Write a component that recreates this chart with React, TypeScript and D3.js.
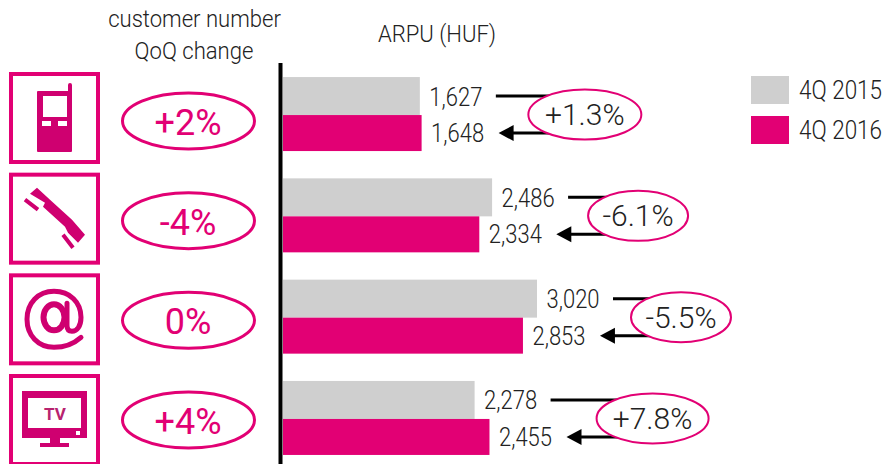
import { useEffect, useRef } from "react";
import * as d3 from "d3";

const categories = ["mobile", "voice", "internet", "tv"];
const customerChange = ["+2%", "-4%", "0%", "+4%"];
const arpu2015 = [1627, 2486, 3020, 2278];
const arpu2016 = [1648, 2334, 2853, 2455];
const arpuChange = ["+1.3%", "-6.1%", "-5.5%", "+7.8%"];
const seriesNames = ["4Q 2015", "4Q 2016"];

const MAGENTA = "#e20074";
const ICON = "#cf0070";
const GREY = "#cfcfcf";
const FONT = "Roboto, 'Liberation Sans', sans-serif";

export default function App() {
    const svgRef = useRef<SVGSVGElement>(null);

    useEffect(() => {
        const svg = d3.select(svgRef.current);
        svg.selectAll("*").remove();

        const x = d3.scaleLinear().domain([0, 3020]).range([283, 537]);
        const y = d3.scaleBand().domain(categories).range([64.1, 469.3]);
        const rowMid = (c: string) => y(c)! + y.bandwidth() / 2 + 0.3;
        // the left column is spaced a little tighter than the bars
        const yBadge = d3.scalePoint().domain(categories).range([121, 420]);
        const yFrame = d3.scalePoint().domain(categories).range([118, 420]);
        const fmt = d3.format(",");

        // ellipse distance from the end of the grey bar
        const badgeOffset = [165, 146, 144, 178];
        const badgeRx = [56.5, 50, 50, 56];

        const rows = svg.selectAll("g.row")
            .data(categories)
            .join("g")
            .attr("class", "row");

        // grey and magenta bars
        rows.append("rect")
            .attr("x", x(0))
            .attr("y", d => rowMid(d) - 38)
            .attr("width", (d, i) => x(arpu2015[i]) - x(0))
            .attr("height", 38)
            .attr("fill", GREY);
        rows.append("rect")
            .attr("x", x(0))
            .attr("y", d => rowMid(d))
            .attr("width", (d, i) => x(arpu2016[i]) - x(0))
            .attr("height", 36)
            .attr("fill", MAGENTA);

        // arrows between the two values, the ellipse hides the middle
        rows.append("path")
            .attr("d", (d, i) => {
                const m = rowMid(d);
                const cx = x(arpu2015[i]) + badgeOffset[i];
                return `M${x(arpu2015[i]) + 76},${m - 19}H${cx}M${cx},${m + 18}H${x(arpu2016[i]) + 90}`;
            })
            .attr("fill", "none")
            .attr("stroke", "#000")
            .attr("stroke-width", 3);
        rows.append("path")
            .attr("d", (d, i) => {
                const m = rowMid(d);
                const tip = x(arpu2016[i]) + 77;
                return `M${tip},${m + 18}l15,-8v16z`;
            })
            .attr("fill", "#000");

        rows.append("text")
            .attr("class", "cond")
            .attr("x", (d, i) => x(arpu2015[i]) + 9.5)
            .attr("y", d => rowMid(d) - 9.5)
            .text((d, i) => fmt(arpu2015[i]));
        rows.append("text")
            .attr("class", "cond")
            .attr("x", (d, i) => x(arpu2016[i]) + 9.5)
            .attr("y", d => rowMid(d) + 27)
            .text((d, i) => fmt(arpu2016[i]));

        rows.append("ellipse")
            .attr("cx", (d, i) => x(arpu2015[i]) + badgeOffset[i])
            .attr("cy", d => rowMid(d) - 0.5)
            .attr("rx", (d, i) => badgeRx[i])
            .attr("ry", 25)
            .attr("fill", "#fff")
            .attr("stroke", MAGENTA)
            .attr("stroke-width", 2);
        rows.append("text")
            .attr("x", (d, i) => x(arpu2015[i]) + badgeOffset[i])
            .attr("y", d => rowMid(d) + 10)
            .attr("text-anchor", "middle")
            .attr("font-size", 30)
            .text((d, i) => arpuChange[i]);

        // customer change ellipses
        rows.append("ellipse")
            .attr("cx", 188.5)
            .attr("cy", d => yBadge(d)!)
            .attr("rx", 66)
            .attr("ry", 28)
            .attr("fill", "#fff")
            .attr("stroke", MAGENTA)
            .attr("stroke-width", 3);
        rows.append("text")
            .attr("x", 188)
            .attr("y", d => yBadge(d)! + 14)
            .attr("text-anchor", "middle")
            .attr("font-size", 36)
            .attr("font-weight", 400)
            .attr("fill", MAGENTA)
            .text((d, i) => customerChange[i]);

        // icon frames
        rows.append("rect")
            .attr("x", 11)
            .attr("y", d => yFrame(d)! - 44)
            .attr("width", 87)
            .attr("height", 88)
            .attr("fill", "#fff")
            .attr("stroke", MAGENTA)
            .attr("stroke-width", 4);

        // icon drawings, coordinates are relative to the outer frame top
        const icons = rows.append("g")
            .attr("transform", d => `translate(0,${yFrame(d)! - 46})`)
            .attr("fill", ICON);

        icons.filter(d => d === "mobile").append("path")
            .attr("fill-rule", "evenodd")
            .attr("d", "M37,20q0,-1 1,-1H68V13q0,-2 2,-2t2,2V79q0,1 -1,1H38q-1,0 -1,-1Z M43,24V45H67V24Z M42,49V54H51V49Z M58,49V54H67V49Z");

        const hand = icons.filter(d => d === "voice");
        hand.append("path")
            .attr("d", "M30,21L37,15L50,27L72,47L85,62L78,70L68,60L65,54L43,34L45,30Z");
        hand.append("path")
            .attr("d", "M25,27L38,37M63,62L73,75")
            .attr("fill", "none")
            .attr("stroke", ICON)
            .attr("stroke-width", 4);

        const at = icons.filter(d => d === "internet");
        at.append("path")
            .attr("d", "M81,64C72,72 64,74 54,74C38,74 27,62 27,46C27,30 38,18 54,18C70,18 81,29 81,44C81,53 77,58 72,58C69,58 67,56 67,52V30")
            .attr("fill", "none")
            .attr("stroke", ICON)
            .attr("stroke-width", 5)
            .attr("stroke-linecap", "round");
        at.append("ellipse")
            .attr("cx", 54)
            .attr("cy", 44)
            .attr("rx", 10.5)
            .attr("ry", 13)
            .attr("fill", "none")
            .attr("stroke", ICON)
            .attr("stroke-width", 6);

        const tv = icons.filter(d => d === "tv");
        tv.append("path")
            .attr("fill-rule", "evenodd")
            .attr("d", "M22,17H87V64H60V69H69V73H40V69H50V64H22Z M28,24V54H81V24Z M76,57V61H80V57Z");
        tv.append("text")
            .attr("x", 55)
            .attr("y", 46)
            .attr("text-anchor", "middle")
            .attr("font-weight", 700)
            .attr("font-size", 17)
            .attr("fill", "#b8236f")
            .text("TV");

        // axis line
        svg.append("line")
            .attr("x1", 280.5)
            .attr("x2", 280.5)
            .attr("y1", 63)
            .attr("y2", 464)
            .attr("stroke", "#000")
            .attr("stroke-width", 4);

        // headings
        const head = svg.append("g").attr("font-size", 24).attr("text-anchor", "middle");
        head.append("text").attr("class", "wide").attr("x", 194.5).attr("y", 27).text("customer number");
        head.append("text").attr("class", "wide").attr("x", 194).attr("y", 59).text("QoQ change");
        head.append("text").attr("class", "wide").attr("x", 437).attr("y", 42).text("ARPU (HUF)");

        // legend, squeezed with a transform so the box of the text stays inside the page
        const legend = svg.selectAll("g.legend")
            .data(seriesNames)
            .join("g")
            .attr("class", "legend")
            .attr("transform", (d, i) => `translate(751,${76 + i * 40})`);
        legend.append("rect")
            .attr("width", 38)
            .attr("height", 28)
            .attr("fill", (d, i) => (i === 0 ? GREY : MAGENTA));
        legend.append("text")
            .attr("transform", "translate(48,23) scale(0.9,1)")
            .text(d => d);

        // the original face is narrower than anything installed, so squeeze the glyphs
        const squeeze = (sel: string, k: number) =>
            svg.selectAll<SVGTextElement, unknown>(sel).each(function () {
                const len = this.getComputedTextLength();
                d3.select(this)
                    .attr("textLength", len * k)
                    .attr("lengthAdjust", "spacingAndGlyphs");
            });
        squeeze("text.cond", 0.88);
        squeeze("text.wide", 0.92);
    }, []);

    return (
        <svg
            ref={svgRef}
            width={884}
            height={464}
            fontFamily={FONT}
            fontSize={25}
            fontWeight={300}
            fill="#222"
            style={{ position: "absolute", left: 0, top: 0, background: "#fff" }}
        />
    );
}
